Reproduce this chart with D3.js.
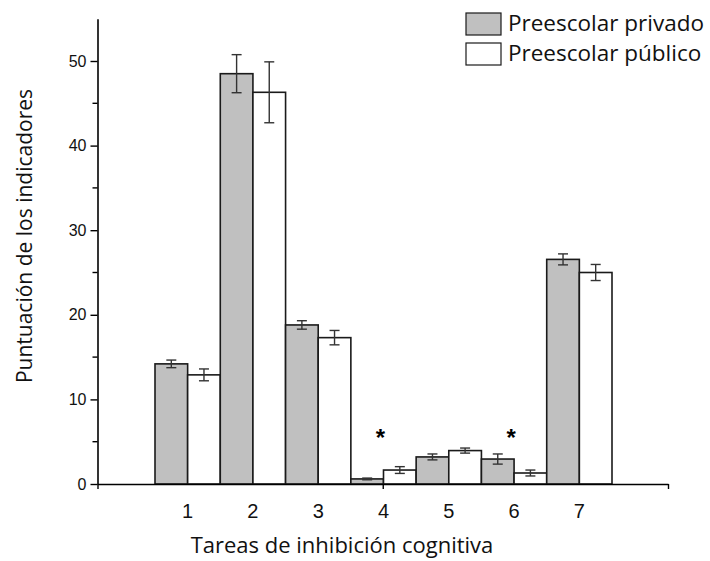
<!DOCTYPE html>
<html>
<head>
<meta charset="utf-8">
<script src="https://cdn.jsdelivr.net/npm/d3@7"></script>
<style>
  html, body { margin: 0; padding: 0; background: #fff; }
  svg { display: block; }
</style>
</head>
<body>
<svg id="chart" width="710" height="561"></svg>
<script>
// Cognitive inhibition tasks, mean scores by preschool type with error bars
const tasks = ["1", "2", "3", "4", "5", "6", "7"];
const seriesNames = ["Preescolar privado", "Preescolar público"];
const privado = [14.2, 48.5, 18.8, 0.6, 3.2, 2.95, 26.55];
const privadoErr = [0.45, 2.25, 0.5, 0.1, 0.35, 0.6, 0.65];
const publico = [12.9, 46.3, 17.3, 1.65, 3.95, 1.3, 25.0];
const publicoErr = [0.7, 3.6, 0.85, 0.4, 0.3, 0.35, 0.95];
const significant = ["4", "6"];
const yTicks = [0, 10, 20, 30, 40, 50];
const yMinorTicks = [5, 15, 25, 35, 45];
const xAxisTicks = [0, 4, 8];

const fills = ["#c0c0c0", "#ffffff"];
const titleFont = "'Open Sans', 'Noto Sans', sans-serif";
const numFont = "'Liberation Sans', Arial, sans-serif";

const svg = d3.select("#chart");

const y = d3.scaleLinear().domain([0, 55]).range([484, 18.7]);
const xAxisScale = d3.scaleLinear().domain([0, 8]).range([97.5, 668]);
const xGroup = d3.scaleBand().domain(tasks).range([155, 612]).padding(0);
const xSeries = d3.scaleBand().domain(seriesNames).range([0, xGroup.bandwidth()]).padding(0);

const rows = tasks.map((t, i) => ({
  task: t,
  values: [
    { name: seriesNames[0], v: privado[i], e: privadoErr[i] },
    { name: seriesNames[1], v: publico[i], e: publicoErr[i] }
  ]
}));

// Bars
const groups = svg.append("g").selectAll("g")
  .data(rows).join("g")
  .attr("transform", d => `translate(${xGroup(d.task)},0)`);

groups.selectAll("rect")
  .data(d => d.values).join("rect")
  .attr("x", d => xSeries(d.name))
  .attr("y", d => y(d.v))
  .attr("width", xSeries.bandwidth())
  .attr("height", d => y(0) - y(d.v))
  .attr("fill", (d, i) => fills[i])
  .attr("stroke", "#1a1a1a")
  .attr("stroke-width", 1.6);

// Error bars
const capHalf = 5;
const eb = groups.selectAll("g.err")
  .data(d => d.values).join("g").attr("class", "err")
  .attr("stroke", "#333")
  .attr("stroke-width", 1.4);
eb.append("line")
  .attr("x1", d => xSeries(d.name) + xSeries.bandwidth() / 2)
  .attr("x2", d => xSeries(d.name) + xSeries.bandwidth() / 2)
  .attr("y1", d => y(d.v + d.e))
  .attr("y2", d => y(Math.max(0, d.v - d.e)));
eb.append("line")
  .attr("x1", d => xSeries(d.name) + xSeries.bandwidth() / 2 - capHalf)
  .attr("x2", d => xSeries(d.name) + xSeries.bandwidth() / 2 + capHalf)
  .attr("y1", d => y(d.v + d.e))
  .attr("y2", d => y(d.v + d.e));
eb.append("line")
  .attr("x1", d => xSeries(d.name) + xSeries.bandwidth() / 2 - capHalf)
  .attr("x2", d => xSeries(d.name) + xSeries.bandwidth() / 2 + capHalf)
  .attr("y1", d => y(Math.max(0, d.v - d.e)))
  .attr("y2", d => y(Math.max(0, d.v - d.e)));

// Y axis with major and minor ticks
const yAxisG = svg.append("g").attr("transform", `translate(${xAxisScale(0)},0)`);
yAxisG.call(d3.axisLeft(y).tickValues(yTicks).tickSize(7).tickPadding(4).tickSizeOuter(0))
  .call(g => g.selectAll("text").attr("font-family", numFont).attr("font-size", 16).attr("fill", "#111"))
  .call(g => g.select(".domain").attr("stroke", "#000").attr("stroke-width", 1.6))
  .call(g => g.selectAll(".tick line").attr("stroke", "#000").attr("stroke-width", 1.4));
yAxisG.append("g").selectAll("line")
  .data(yMinorTicks).join("line")
  .attr("x1", -5).attr("x2", 0)
  .attr("y1", d => y(d)).attr("y2", d => y(d))
  .attr("stroke", "#000").attr("stroke-width", 1.4);

// X axis line with plain ticks
const xAxisG = svg.append("g").attr("transform", `translate(0,${y(0)})`);
xAxisG.call(d3.axisBottom(xAxisScale).tickValues(xAxisTicks).tickSize(5).tickFormat("").tickSizeOuter(0))
  .call(g => g.select(".domain").attr("stroke", "#000").attr("stroke-width", 1.6))
  .call(g => g.selectAll(".tick line").attr("stroke", "#000").attr("stroke-width", 1.4));

// Task labels
svg.append("g").selectAll("text")
  .data(tasks).join("text")
  .attr("x", d => xGroup(d) + xGroup.bandwidth() / 2)
  .attr("y", 518)
  .attr("text-anchor", "middle")
  .attr("font-family", numFont)
  .attr("font-size", 20)
  .attr("fill", "#111")
  .text(d => d);

// Significance markers
svg.append("g").selectAll("text")
  .data(significant).join("text")
  .attr("x", d => xGroup(d) + xGroup.bandwidth() / 2 - 3)
  .attr("y", y(6) + 13)
  .attr("text-anchor", "middle")
  .attr("font-family", numFont)
  .attr("font-weight", "bold")
  .attr("font-size", 24)
  .attr("fill", "#000")
  .text("*");

// Axis titles
svg.append("text")
  .attr("x", 342).attr("y", 553)
  .attr("text-anchor", "middle")
  .attr("font-family", titleFont)
  .attr("font-size", 22)
  .attr("fill", "#111")
  .text("Tareas de inhibición cognitiva");

svg.append("text")
  .attr("transform", "translate(32,236) rotate(-90)")
  .attr("text-anchor", "middle")
  .attr("font-family", titleFont)
  .attr("font-size", 21)
  .attr("fill", "#111")
  .text("Puntuación de los indicadores");

// Legend
const legend = svg.append("g").selectAll("g")
  .data(seriesNames).join("g")
  .attr("transform", (d, i) => `translate(466,${13 + i * 30})`);
legend.append("rect")
  .attr("width", 35).attr("height", 22)
  .attr("fill", (d, i) => fills[i])
  .attr("stroke", "#1a1a1a").attr("stroke-width", 1.2);
legend.append("text")
  .attr("x", 42).attr("y", 18)
  .attr("font-family", titleFont)
  .attr("font-size", 22.5)
  .attr("fill", "#111")
  .text(d => d);
</script>
</body>
</html>
